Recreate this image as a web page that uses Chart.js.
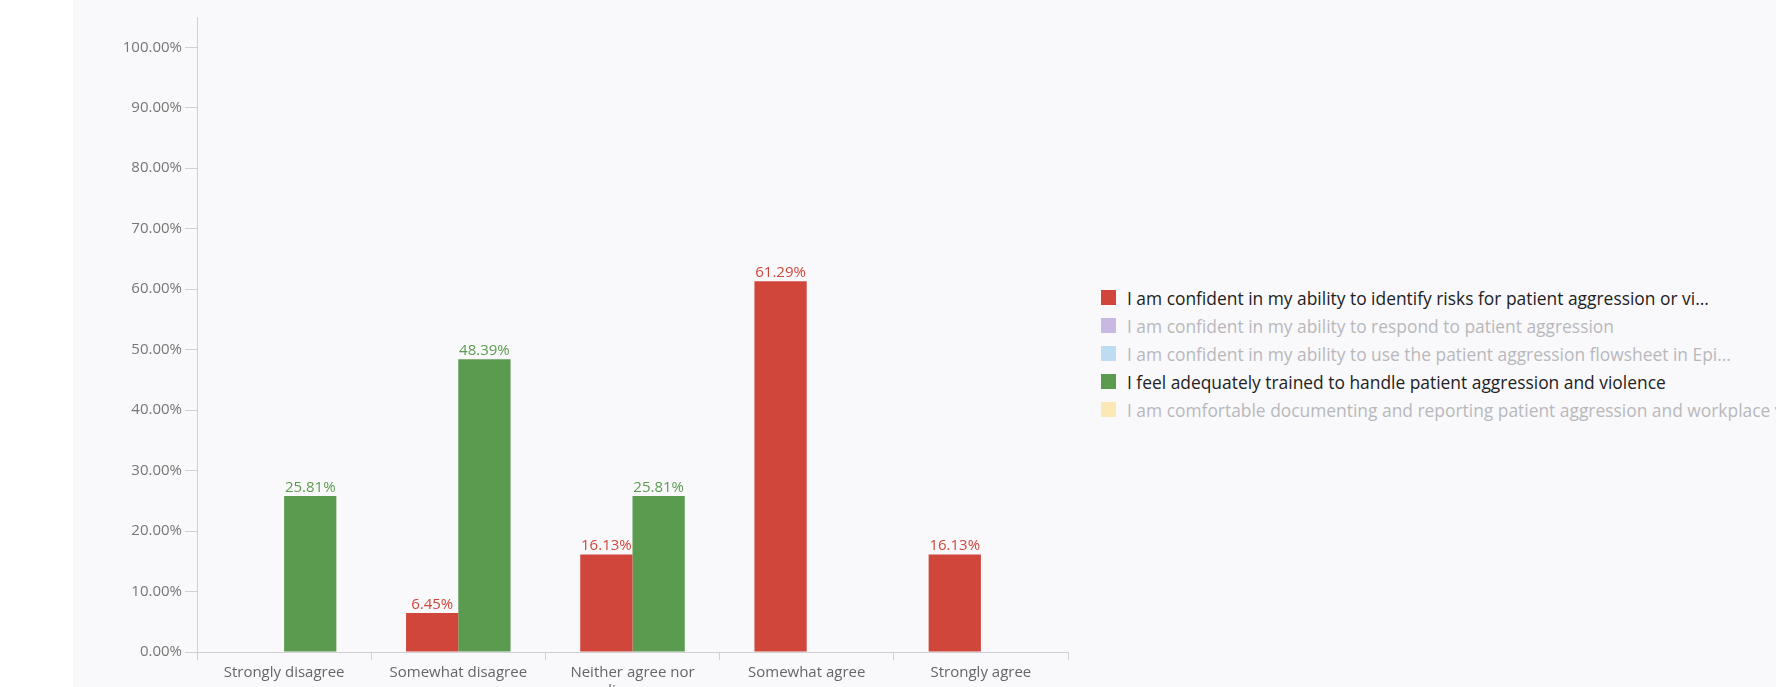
<!DOCTYPE html>
<html>
<head>
<meta charset="utf-8">
<script src="https://cdn.jsdelivr.net/npm/chart.js@4"></script>
<style>
  html, body { margin: 0; padding: 0; width: 1776px; height: 687px; overflow: hidden; background: #ffffff; font-family: "Open Sans", sans-serif; }
  #panel { position: absolute; left: 73px; top: 0; width: 1703px; height: 687px; background: #f9f9fb; overflow: hidden; }
  #wrap { position: absolute; left: 0; top: 0; width: 1000px; height: 720px; }
  #legend { position: absolute; left: 1028px; top: 284px; white-space: nowrap; }
  .item { height: 27.9px; display: flex; align-items: center; font-size: 17.4px; }
  .box { width: 15px; height: 15px; margin-right: 11px; flex: none; }
</style>
</head>
<body>
<div id="panel">
  <div id="wrap"><canvas id="c"></canvas></div>
  <div id="legend"></div>
</div>
<script>
const categories = ["Strongly disagree", "Somewhat disagree", ["Neither agree nor", "disagree"], "Somewhat agree", "Strongly agree"];
const seriesNames = [
  "I am confident in my ability to identify risks for patient aggression or vi...",
  "I am confident in my ability to respond to patient aggression",
  "I am confident in my ability to use the patient aggression flowsheet in Epi...",
  "I feel adequately trained to handle patient aggression and violence",
  "I am comfortable documenting and reporting patient aggression and workplace violence"
];
const seriesColors = ["#d0463b", "#c7b9e2", "#bddbf1", "#5b9b4f", "#fbe9b5"];
const seriesHidden = [false, true, true, false, true];
const identifyRisks = [0, 6.45, 16.13, 61.29, 16.13];
const respond = [null, null, null, null, null];
const flowsheet = [null, null, null, null, null];
const adequatelyTrained = [25.81, 48.39, 25.81, 0, 0];
const documenting = [null, null, null, null, null];
const seriesValues = [identifyRisks, respond, flowsheet, adequatelyTrained, documenting];
const yTicks = [0, 10, 20, 30, 40, 50, 60, 70, 80, 90, 100];

const valueLabels = {
  id: 'valueLabels',
  afterDatasetsDraw(chart) {
    const ctx = chart.ctx;
    ctx.save();
    ctx.font = '15px "Open Sans"';
    ctx.textAlign = 'center';
    ctx.textBaseline = 'alphabetic';
    chart.data.datasets.forEach((ds, i) => {
      if (!chart.isDatasetVisible(i)) return;
      const meta = chart.getDatasetMeta(i);
      meta.data.forEach((bar, j) => {
        const v = ds.data[j];
        if (v === null || v === 0) return;
        ctx.fillStyle = ds.backgroundColor;
        ctx.fillText(v.toFixed(2) + '%', bar.x, bar.y - 4);
      });
    });
    ctx.restore();
  }
};

const datasets = seriesNames.map((name, i) => ({
  label: name,
  data: seriesValues[i],
  backgroundColor: seriesColors[i],
  hidden: seriesHidden[i],
  categoryPercentage: 0.6,
  barPercentage: 1.0
}));

new Chart(document.getElementById('c'), {
  type: 'bar',
  data: { labels: categories, datasets },
  options: {
    responsive: true,
    maintainAspectRatio: false,
    animation: false,
    layout: { padding: { top: 17, left: 0, right: 5, bottom: 0 } },
    plugins: { legend: { display: false }, tooltip: { enabled: false } },
    scales: {
      x: {
        grid: { offset: true, drawOnChartArea: false, drawTicks: true, tickLength: 8, color: '#d0d0d4' },
        border: { color: '#d0d0d4' },
        ticks: { font: { family: 'Open Sans', size: 15 }, color: '#666666', padding: 4, maxRotation: 0 },
        afterFit(scale) { scale.height = 68; }
      },
      y: {
        min: 0, max: 105,
        grid: { drawOnChartArea: false, drawTicks: true, tickLength: 12, color: '#d0d0d4' },
        border: { color: '#d0d0d4' },
        ticks: { stepSize: 10, font: { family: 'Open Sans', size: 15 }, color: '#777777', padding: 3,
          callback: v => v.toFixed(2) + '%' },
        afterBuildTicks(scale) { scale.ticks = yTicks.map(v => ({ value: v })); },
        afterFit(scale) { scale.width = 124; }
      }
    }
  },
  plugins: [valueLabels]
});

const legend = document.getElementById('legend');
seriesNames.forEach((name, i) => {
  const row = document.createElement('div');
  row.className = 'item';
  row.style.color = seriesHidden[i] ? '#b8b8bc' : '#222222';
  const box = document.createElement('span');
  box.className = 'box';
  box.style.background = seriesColors[i];
  const txt = document.createElement('span');
  txt.textContent = name;
  row.appendChild(box);
  row.appendChild(txt);
  legend.appendChild(row);
});
</script>
</body>
</html>
